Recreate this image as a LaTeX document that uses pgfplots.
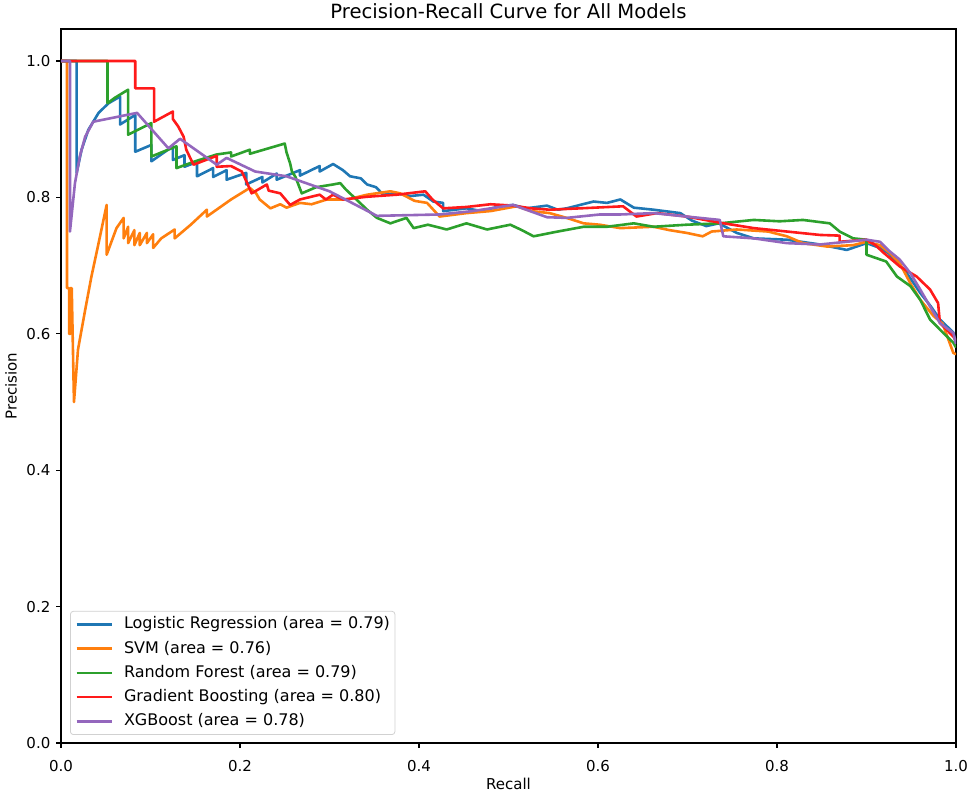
\documentclass[border=0pt]{standalone}
\usepackage{fontspec}
\setmainfont{DejaVu Sans}
\usepackage{pgfplots}
\pgfplotsset{compat=1.18}
\definecolor{cLR}{HTML}{1F77B4}
\definecolor{cSVM}{HTML}{FF7F0E}
\definecolor{cRF}{HTML}{2CA02C}
\definecolor{cGB}{HTML}{FF1A1A}
\definecolor{cXG}{HTML}{9467BD}
\begin{document}
\fontsize{14bp}{16bp}\selectfont
\begin{tikzpicture}
\path[use as bounding box] (-61bp,-50bp) rectangle (908bp,743bp);
\begin{axis}[
  scale only axis, width=895bp, height=714bp,
  xmin=0, xmax=1, ymin=0, ymax=1.047,
  xtick={0,0.2,0.4,0.6,0.8,1.0}, ytick={0,0.2,0.4,0.6,0.8,1.0},
  xtick pos=bottom, ytick pos=left,
  tick align=outside, major tick length=4.8bp,
  every tick/.style={black, line width=1.1bp},
  axis line style={line width=1.1bp, black},
  /pgf/number format/.cd, fixed, fixed zerofill, precision=1, assume math mode=true,
  /pgfplots/.cd,
  tick label style={font=\fontsize{15bp}{17bp}\selectfont},
  xticklabel style={anchor=base, yshift=-23.4bp},
  yticklabel style={anchor=east, xshift=-1bp},
  title={Precision-Recall Curve for All Models},
  every axis title/.style={at={(axis description cs:0.5,1)}, anchor=base, yshift=10.7bp, font=\fontsize{19.6bp}{22bp}\selectfont},
  xlabel={Recall},
  xlabel style={at={(axis description cs:0.5,-0.0658)}, anchor=base, font=\fontsize{15bp}{18bp}\selectfont},
  ylabel={Precision},
  ylabel style={at={(axis description cs:-0.0495,0.5)}, anchor=base, rotate=0, font=\fontsize{15bp}{18bp}\selectfont},
  legend cell align=left,
  legend image code/.code={\draw[#1] (0bp,0bp) -- (35bp,0bp);},
  legend style={at={(axis description cs:0,0)}, anchor=south west, xshift=9bp, yshift=8bp,
    draw=black!18, line width=0.8bp, rounded corners=3bp, fill=white, fill opacity=0.8, text opacity=1,
    inner xsep=5bp, inner ysep=5.5bp, column sep=11bp, row sep=8.7bp,
    nodes={inner sep=0pt, text height=12bp, text depth=3.5bp, font=\fontsize{16bp}{18bp}\selectfont}},
  every axis plot/.append style={line width=2.6bp, line join=round},
]
\addplot[cLR] coordinates {
(0,1.0)(0.0175,1.0)(0.0175,0.836)(0.023,0.870)(0.0305,0.899)(0.042,0.924)(0.053,0.938)(0.066,0.948)
(0.066,0.907)(0.083,0.921)(0.083,0.867)(0.101,0.877)(0.101,0.853)(0.125,0.875)(0.125,0.855)
(0.138,0.862)(0.138,0.845)(0.152,0.852)(0.152,0.831)(0.170,0.843)(0.170,0.830)(0.185,0.840)(0.185,0.826)
(0.207,0.836)(0.207,0.819)(0.225,0.830)(0.225,0.822)(0.241,0.835)(0.241,0.826)(0.267,0.840)(0.267,0.832)
(0.289,0.846)(0.289,0.838)(0.304,0.849)(0.315,0.840)(0.323,0.831)(0.335,0.828)(0.342,0.819)(0.352,0.815)
(0.360,0.804)(0.375,0.806)(0.390,0.802)(0.405,0.804)(0.416,0.794)(0.427,0.792)(0.427,0.780)(0.453,0.784)
(0.470,0.780)(0.490,0.787)(0.505,0.789)(0.520,0.784)(0.543,0.788)(0.555,0.782)(0.565,0.784)(0.595,0.794)
(0.610,0.792)(0.625,0.797)(0.640,0.785)(0.662,0.782)(0.692,0.777)(0.705,0.766)(0.721,0.758)(0.735,0.762)
(0.755,0.748)(0.774,0.740)(0.811,0.738)(0.848,0.731)(0.878,0.723)(0.900,0.733)(0.915,0.726)(0.925,0.718)
(0.945,0.689)(0.960,0.660)(0.972,0.640)(0.982,0.621)(0.997,0.602)(1.0,0.585)};
\addlegendentry{Logistic Regression (area = 0.79)}
\addplot[cSVM] coordinates {
(0,1.0)(0.0067,1.0)(0.0067,0.667)(0.009,0.667)(0.009,0.600)(0.0105,0.600)(0.0105,0.667)(0.012,0.667)
(0.0145,0.50)(0.019,0.577)(0.027,0.635)(0.034,0.684)(0.042,0.733)(0.051,0.789)(0.051,0.716)(0.062,0.755)
(0.070,0.770)(0.070,0.740)(0.075,0.757)(0.075,0.733)(0.082,0.752)(0.082,0.730)(0.088,0.748)(0.088,0.730)
(0.096,0.748)(0.096,0.733)(0.103,0.746)(0.103,0.726)(0.112,0.740)(0.127,0.753)(0.127,0.740)(0.145,0.760)
(0.163,0.782)(0.163,0.772)(0.190,0.797)(0.211,0.814)(0.218,0.806)(0.222,0.797)(0.234,0.784)(0.245,0.790)
(0.252,0.785)(0.267,0.792)(0.280,0.790)(0.297,0.797)(0.320,0.797)(0.342,0.804)(0.368,0.809)(0.379,0.806)
(0.395,0.795)(0.409,0.792)(0.423,0.772)(0.453,0.777)(0.480,0.780)(0.509,0.787)(0.525,0.780)(0.546,0.777)
(0.565,0.770)(0.584,0.762)(0.602,0.760)(0.625,0.755)(0.662,0.757)(0.680,0.752)(0.699,0.748)(0.717,0.743)
(0.727,0.750)(0.755,0.753)(0.790,0.750)(0.811,0.743)(0.829,0.733)(0.856,0.728)(0.885,0.730)(0.900,0.735)
(0.915,0.730)(0.925,0.720)(0.937,0.704)(0.949,0.674)(0.960,0.650)(0.975,0.626)(0.985,0.615)(0.997,0.572)(1.0,0.57)};
\addlegendentry{SVM (area = 0.76)}
\addplot[cRF] coordinates {
(0,1.0)(0.052,1.0)(0.052,0.938)(0.060,0.946)(0.075,0.958)(0.075,0.892)(0.101,0.909)(0.101,0.860)
(0.129,0.875)(0.129,0.843)(0.150,0.853)(0.174,0.863)(0.190,0.866)(0.190,0.860)(0.211,0.870)(0.211,0.864)
(0.250,0.879)(0.252,0.866)(0.256,0.850)(0.258,0.838)(0.262,0.830)(0.269,0.806)(0.285,0.815)(0.304,0.819)
(0.312,0.821)(0.318,0.812)(0.330,0.797)(0.342,0.782)(0.353,0.770)(0.368,0.762)(0.386,0.770)(0.394,0.755)
(0.410,0.760)(0.431,0.753)(0.453,0.762)(0.476,0.753)(0.502,0.760)(0.515,0.752)(0.528,0.743)(0.555,0.750)
(0.584,0.757)(0.610,0.757)(0.640,0.762)(0.662,0.757)(0.699,0.760)(0.736,0.762)(0.774,0.767)(0.803,0.765)
(0.829,0.767)(0.859,0.762)(0.870,0.750)(0.885,0.740)(0.900,0.738)(0.900,0.716)(0.922,0.706)(0.934,0.684)
(0.949,0.670)(0.960,0.650)(0.971,0.621)(0.986,0.601)(0.997,0.587)(1.0,0.58)};
\addlegendentry{Random Forest (area = 0.79)}
\addplot[cGB] coordinates {
(0,1.0)(0.083,1.0)(0.083,0.960)(0.104,0.960)(0.104,0.911)(0.125,0.926)(0.125,0.915)(0.131,0.904)
(0.137,0.889)(0.140,0.870)(0.148,0.848)(0.174,0.861)(0.174,0.845)(0.190,0.846)(0.202,0.838)(0.207,0.824)
(0.213,0.806)(0.230,0.819)(0.232,0.810)(0.245,0.806)(0.256,0.789)(0.267,0.797)(0.289,0.804)(0.296,0.797)
(0.304,0.804)(0.315,0.797)(0.342,0.801)(0.375,0.804)(0.407,0.809)(0.415,0.797)(0.427,0.784)(0.453,0.786)
(0.480,0.790)(0.505,0.788)(0.525,0.784)(0.546,0.782)(0.580,0.784)(0.628,0.787)(0.643,0.772)(0.666,0.777)
(0.699,0.772)(0.736,0.763)(0.774,0.755)(0.811,0.750)(0.848,0.745)(0.870,0.744)(0.870,0.735)(0.900,0.738)
(0.910,0.730)(0.919,0.719)(0.937,0.699)(0.956,0.684)(0.971,0.665)(0.980,0.645)(0.982,0.616)(0.997,0.596)(1.0,0.59)};
\addlegendentry{Gradient Boosting (area = 0.80)}
\addplot[cXG] coordinates {
(0,1.0)(0.010,1.0)(0.010,0.750)(0.0156,0.821)(0.021,0.860)(0.027,0.889)(0.036,0.911)(0.085,0.924)
(0.120,0.872)(0.133,0.886)(0.174,0.848)(0.185,0.858)(0.217,0.838)(0.252,0.831)(0.289,0.814)(0.300,0.809)
(0.353,0.773)(0.423,0.775)(0.460,0.780)(0.505,0.789)(0.543,0.771)(0.565,0.770)(0.602,0.775)(0.625,0.775)
(0.662,0.777)(0.699,0.772)(0.736,0.767)(0.740,0.743)(0.774,0.740)(0.811,0.733)(0.848,0.731)(0.900,0.738)
(0.915,0.735)(0.925,0.722)(0.937,0.709)(0.949,0.689)(0.960,0.665)(0.971,0.640)(0.982,0.616)(0.997,0.601)(1.0,0.585)};
\addlegendentry{XGBoost (area = 0.78)}
\end{axis}
\end{tikzpicture}
\end{document}
